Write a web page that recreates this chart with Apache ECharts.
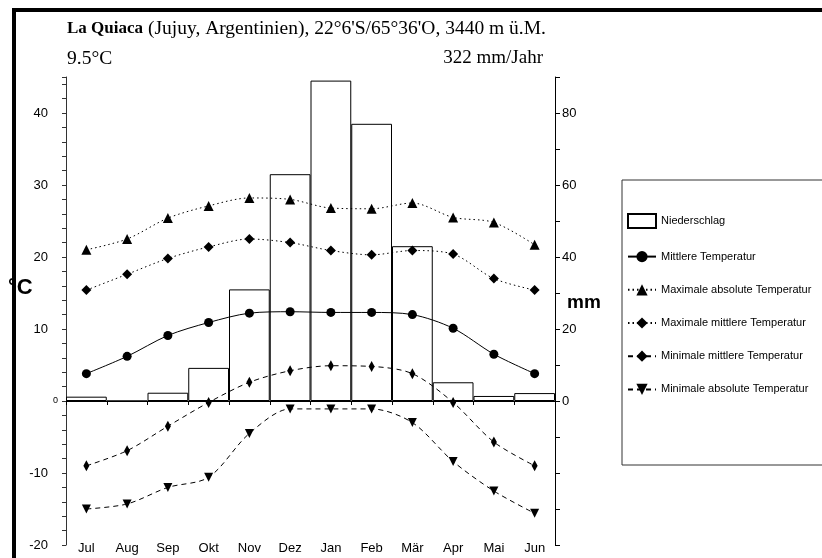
<!DOCTYPE html>
<html><head><meta charset="utf-8">
<script src="https://cdn.jsdelivr.net/npm/echarts@6/dist/echarts.min.js"></script>
<style>html,body{margin:0;padding:0;background:#fff}#c{width:822px;height:558px}</style>
</head><body><div id="c"></div>
<script>
const months = ['Jul','Aug','Sep','Okt','Nov','Dez','Jan','Feb','Mär','Apr','Mai','Jun'];
const precipitation = [1.2, 0, 2.3, 9.2, 31, 63, 89, 77, 43, 5.2, 1.4, 2.2];
const meanTemp = [3.8, 6.2, 9.1, 10.9, 12.2, 12.4, 12.3, 12.3, 12.0, 10.1, 6.5, 3.8];
const maxAbsTemp = [21.0, 22.5, 25.4, 27.1, 28.2, 28.0, 26.8, 26.7, 27.5, 25.5, 24.8, 21.7];
const maxMeanTemp = [15.4, 17.6, 19.8, 21.4, 22.5, 22.0, 20.9, 20.3, 20.9, 20.4, 17.0, 15.4];
const minMeanTemp = [-9.0, -6.9, -3.5, -0.2, 2.6, 4.2, 4.9, 4.8, 3.8, -0.2, -5.7, -9.0];
const minAbsTemp = [-15.0, -14.3, -12.0, -10.6, -4.5, -1.1, -1.1, -1.1, -3.0, -8.4, -12.5, -15.6];
const tempTickLabels = [-20, -10, 0, 10, 20, 30, 40];
const precipTickLabels = [0, 20, 40, 60, 80];

const chart = echarts.init(document.getElementById('c'), null, {renderer: 'canvas'});
const SANS = 'Liberation Sans, Arial, sans-serif';
const SERIF = 'Liberation Serif, Times New Roman, serif';
const DOT = [1.5, 3];
const DASH = [5, 4];

function lineSeries(name, data, symbol, size, type, rotate) {
  return {
    name, type: 'line', data, xAxisIndex: 0, yAxisIndex: 0,
    symbol, symbolSize: size, symbolRotate: rotate || 0, showSymbol: true,
    smooth: 0.3, z: 5,
    lineStyle: {color: '#000', width: 1, type},
    itemStyle: {color: '#000', borderWidth: 0},
    emphasis: {disabled: true}
  };
}

chart.setOption({
  backgroundColor: '#fff',
  animation: false,
  title: {
    text: '{b|La Quiaca} (Jujuy, Argentinien), 22°6\'S/65°36\'O, 3440 m ü.M.',
    left: 62, top: 14,
    textStyle: {fontFamily: SERIF, fontSize: 19.5, fontWeight: 'normal', color: '#000',
      rich: {b: {fontFamily: SERIF, fontSize: 17, fontWeight: 'bold', color: '#000'}}}
  },
  grid: {left: 66, right: 267, top: 77, bottom: 13, containLabel: false, outerBoundsMode: 'none'},
  legend: {
    orient: 'vertical', left: 622, top: 208, itemWidth: 28, itemHeight: 14, itemGap: 22,
    textStyle: {fontFamily: SANS, fontSize: 11, color: '#000'},
    data: [{name: 'Niederschlag', icon: 'rect'}, 'Mittlere Temperatur', 'Maximale absolute Temperatur',
      'Maximale mittlere Temperatur', 'Minimale mittlere Temperatur', 'Minimale absolute Temperatur'],
    selectedMode: false
  },
  xAxis: [{
    type: 'category', data: months, position: 'bottom',
    axisLine: {show: false, onZero: false}, axisTick: {show: false},
    axisLabel: {fontFamily: SANS, fontSize: 13, color: '#000', margin: -3, interval: 0},
    splitLine: {show: false}
  }, {
    type: 'category', data: months, position: 'bottom',
    axisLine: {show: true, onZero: true, onZeroAxisIndex: 0, lineStyle: {color: '#000', width: 1}},
    axisTick: {show: true, length: 4, lineStyle: {color: '#000'}},
    axisLabel: {show: false}, splitLine: {show: false}
  }],
  yAxis: [{
    type: 'value', min: -20, max: 45, interval: 2, position: 'left',
    axisLine: {show: true, lineStyle: {color: '#333', width: 1}},
    axisTick: {show: true, length: 4, inside: false, lineStyle: {color: '#333'}},
    axisLabel: {
      interval: 0, margin: 8, color: '#000', fontFamily: SANS, fontSize: 13,
      formatter: v => v === 0 ? '{s|0}' : (tempTickLabels.includes(v) ? '{n|' + v + '}' : ''),
      rich: {s: {fontSize: 9, fontFamily: SANS, color: '#000'},
             n: {fontSize: 13, fontFamily: SANS, color: '#000', padding: [0, 10, 0, 0]}}
    },
    splitLine: {show: false}
  }, {
    type: 'value', min: -40, max: 90, interval: 10, position: 'right',
    axisLine: {show: true, lineStyle: {color: '#000', width: 1}},
    axisTick: {show: true, length: 5, lineStyle: {color: '#000'}},
    axisLabel: {
      interval: 0, margin: 7, color: '#000', fontFamily: SANS, fontSize: 13,
      formatter: v => precipTickLabels.includes(v) ? String(v) : ''
    },
    splitLine: {show: false}
  }],
  series: [
    {
      name: 'Niederschlag', type: 'bar', data: precipitation, xAxisIndex: 0, yAxisIndex: 1,
      barWidth: '100%', barCategoryGap: '0%', z: 2,
      itemStyle: {color: 'rgba(255,255,255,0)', borderColor: '#000', borderWidth: 1},
      emphasis: {disabled: true}
    },
    lineSeries('Mittlere Temperatur', meanTemp, 'circle', 9, 'solid'),
    lineSeries('Maximale absolute Temperatur', maxAbsTemp, 'triangle', 10, DOT),
    lineSeries('Maximale mittlere Temperatur', maxMeanTemp, 'diamond', 10, DOT),
    lineSeries('Minimale mittlere Temperatur', minMeanTemp, 'diamond', [6, 11], DASH),
    lineSeries('Minimale absolute Temperatur', minAbsTemp, 'triangle', 9, DASH, 180)
  ],
  graphic: [
    {type: 'text', left: 67, top: 49, style: {text: '9.5°C', font: '19.5px ' + SERIF, fill: '#000'}},
    {type: 'text', right: 279, top: 49, style: {text: '322 mm/Jahr', font: '19px ' + SERIF, fill: '#000'}},
    {type: 'text', x: 8, y: 277, style: {text: '°C', font: 'bold 22px ' + SANS, fill: '#000'}},
    {type: 'text', x: 567, y: 293, style: {text: 'mm', font: 'bold 19px ' + SANS, fill: '#000'}},
    {type: 'rect', shape: {x: 622, y: 180, width: 260, height: 285}, style: {fill: 'none', stroke: '#333', lineWidth: 1}, z: 0},
    {type: 'rect', shape: {x: 14, y: 10, width: 830, height: 570}, style: {fill: 'none', stroke: '#000', lineWidth: 4}, z: 100}
  ]
});
</script></body></html>
